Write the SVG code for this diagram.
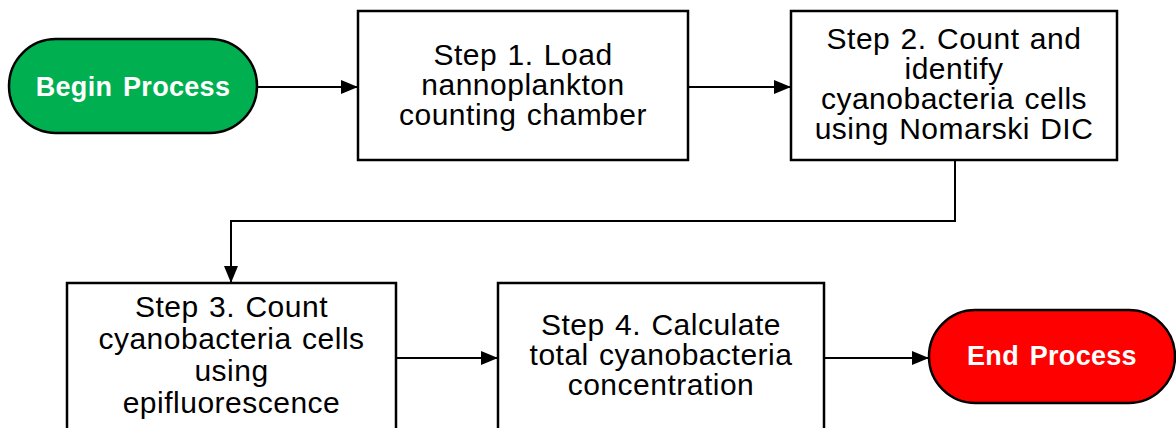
<svg xmlns="http://www.w3.org/2000/svg" width="1176" height="428" viewBox="0 0 1176 428">
<defs>
<style>
.box{fill:#fff;stroke:#000;stroke-width:2.5}
.pill{stroke:#000;stroke-width:2.5}
.t{font-family:"Liberation Sans",Arial,sans-serif;font-size:30px;letter-spacing:0.5px;word-spacing:1.5px;fill:#000;text-anchor:middle}
.pt{font-family:"Liberation Sans",Arial,sans-serif;font-size:27px;font-weight:bold;letter-spacing:0.3px;word-spacing:3px;fill:#fff;text-anchor:middle}
.c{fill:none;stroke:#000;stroke-width:2}
</style>
<marker id="ah" markerWidth="17" markerHeight="14" refX="17" refY="7" orient="auto" markerUnits="userSpaceOnUse">
<path d="M0,0 L17,7 L0,14 z" fill="#000"/>
</marker>
</defs>
<rect width="1176" height="428" fill="#fff"/>
<g id="connectors">
<path class="c" d="M257,87 L358,87" marker-end="url(#ah)"/>
<path class="c" d="M688,87 L791,87" marker-end="url(#ah)"/>
<path class="c" d="M955,160 L955,221 L231,221 L231,283" marker-end="url(#ah)"/>
<path class="c" d="M396,358 L498,358" marker-end="url(#ah)"/>
<path class="c" d="M824,358 L929,358" marker-end="url(#ah)"/>
</g>
<g id="begin">
<rect class="pill" x="9" y="39" width="248" height="94" rx="47" fill="#00B050"/>
<text class="pt" x="133" y="96">Begin Process</text>
</g>
<g id="step1">
<rect class="box" x="358" y="11" width="330" height="149"/>
<text class="t" x="523" y="65">Step 1. Load</text>
<text class="t" x="523" y="95">nannoplankton</text>
<text class="t" x="523" y="125">counting chamber</text>
</g>
<g id="step2">
<rect class="box" x="791" y="11" width="326" height="149"/>
<text class="t" x="954" y="49">Step 2. Count and</text>
<text class="t" x="954" y="79">identify</text>
<text class="t" x="954" y="109">cyanobacteria cells</text>
<text class="t" x="954" y="139">using Nomarski DIC</text>
</g>
<g id="step3">
<rect class="box" x="67" y="283" width="329" height="149"/>
<text class="t" x="231.5" y="317">Step 3. Count</text>
<text class="t" x="231.5" y="349">cyanobacteria cells</text>
<text class="t" x="231.5" y="381">using</text>
<text class="t" x="231.5" y="413">epifluorescence</text>
</g>
<g id="step4">
<rect class="box" x="498" y="283" width="326" height="149"/>
<text class="t" x="661" y="335">Step 4. Calculate</text>
<text class="t" x="661" y="365">total cyanobacteria</text>
<text class="t" x="661" y="395">concentration</text>
</g>
<g id="end">
<rect class="pill" x="929" y="310" width="246" height="93" rx="46.5" fill="#FF0000"/>
<text class="pt" x="1052" y="365">End Process</text>
</g>
</svg>
